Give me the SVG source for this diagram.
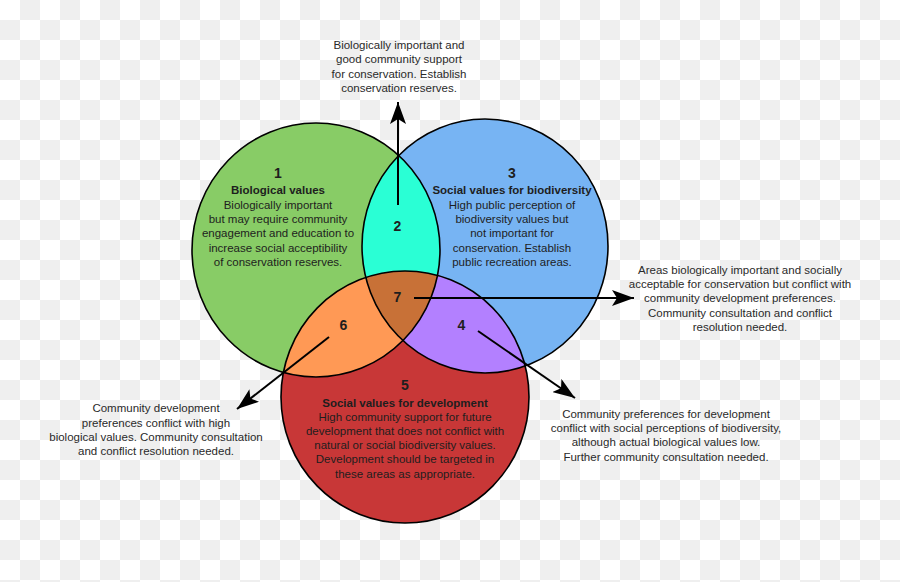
<svg xmlns="http://www.w3.org/2000/svg" width="900" height="582" viewBox="0 0 900 582">
<style>
text{font-family:"Liberation Sans",Arial,sans-serif;fill:#1e1e1e;text-anchor:middle}
.b{font-size:11.5px}
.h{font-size:11.5px;font-weight:bold}
.n{font-size:14px;font-weight:bold}
.o{font-size:11.5px;fill:#2a2a2a}
.ring{fill:none;stroke:#000;stroke-width:1.6}
.con{stroke:#000;stroke-width:2;fill:none;marker-end:url(#ah)}
</style>
<defs>
<pattern id="chk" width="40" height="40" patternUnits="userSpaceOnUse">
<rect width="40" height="40" fill="#fff"/>
<rect x="20" y="0" width="20" height="20" fill="#efefef"/>
<rect x="0" y="20" width="20" height="20" fill="#efefef"/>
</pattern>
<ellipse id="eg" cx="316" cy="250" rx="124" ry="127"/>
<ellipse id="eb" cx="485" cy="246" rx="123" ry="127"/>
<ellipse id="er" cx="405" cy="397" rx="124" ry="126"/>
<clipPath id="cg"><use href="#eg"/></clipPath>
<clipPath id="cb"><use href="#eb"/></clipPath>
<marker id="ah" markerWidth="24" markerHeight="16" refX="22" refY="8" orient="auto" markerUnits="userSpaceOnUse" viewBox="0 0 24 16">
<path d="M22,8 L0,0 L5,8 L0,16 Z" fill="#000"/>
</marker>
</defs>
<rect width="900" height="582" fill="url(#chk)"/>
<g id="circle-1"><use href="#eg" fill="#88cc66"/></g>
<g id="circle-3"><use href="#eb" fill="#77b4f3"/></g>
<g id="circle-5"><use href="#er" fill="#c83737"/></g>
<g id="region-2"><use href="#eb" fill="#2affd5" clip-path="url(#cg)"/></g>
<g id="region-6"><use href="#er" fill="#ff9955" clip-path="url(#cg)"/></g>
<g id="region-4"><use href="#er" fill="#b380ff" clip-path="url(#cb)"/></g>
<g id="region-7"><g clip-path="url(#cb)"><use href="#er" fill="#c87137" clip-path="url(#cg)"/></g></g>
<g id="outlines">
<use href="#eg" class="ring"/>
<use href="#eb" class="ring"/>
<use href="#er" class="ring"/>
</g>
<g id="connectors">
<line class="con" x1="398" y1="205" x2="398" y2="102"/>
<line class="con" x1="414" y1="298" x2="634" y2="298"/>
<line class="con" x1="329" y1="337" x2="237" y2="409"/>
<line class="con" x1="478" y1="331" x2="575" y2="398"/>
</g>
<g id="label-1">
<text class="n" x="278" y="178">1</text>
<text class="h" x="278" y="194">Biological values</text>
<text class="b" x="278" y="209">Biologically important</text>
<text class="b" x="278" y="223.2">but may require community</text>
<text class="b" x="278" y="237.4">engagement and education to</text>
<text class="b" x="278" y="251.6">increase social acceptibility</text>
<text class="b" x="278" y="265.8">of conservation reserves.</text>
</g>
<g id="label-3">
<text class="n" x="512" y="178">3</text>
<text class="h" x="512" y="194">Social values for biodiversity</text>
<text class="b" x="512" y="209">High public perception of</text>
<text class="b" x="512" y="223.2">biodiversity values but</text>
<text class="b" x="512" y="237.4">not important for</text>
<text class="b" x="512" y="251.6">conservation. Establish</text>
<text class="b" x="512" y="265.8">public recreation areas.</text>
</g>
<g id="label-2"><text class="n" x="397.5" y="231">2</text></g>
<g id="label-7"><text class="n" x="397.5" y="302">7</text></g>
<g id="label-6"><text class="n" x="343.5" y="330">6</text></g>
<g id="label-4"><text class="n" x="461.5" y="330">4</text></g>
<g id="label-5">
<text class="n" x="405" y="390">5</text>
<text class="h" x="405" y="406.5">Social values for development</text>
<text class="b" x="405" y="420.7">High community support for future</text>
<text class="b" x="405" y="434.9">development that does not conflict with</text>
<text class="b" x="405" y="449.1">natural or social biodiversity values.</text>
<text class="b" x="405" y="463.3">Development should be targeted in</text>
<text class="b" x="405" y="477.5">these areas as appropriate.</text>
</g>
<g id="note-top">
<text class="o" x="399" y="49">Biologically important and</text>
<text class="o" x="399" y="63.3">good community support</text>
<text class="o" x="399" y="77.6">for conservation. Establish</text>
<text class="o" x="399" y="91.9">conservation reserves.</text>
</g>
<g id="note-right">
<text class="o" x="740" y="274">Areas biologically important and socially</text>
<text class="o" x="740" y="288.2">acceptable for conservation but conflict with</text>
<text class="o" x="740" y="302.4">community development preferences.</text>
<text class="o" x="740" y="316.6">Community consultation and conflict</text>
<text class="o" x="740" y="330.8">resolution needed.</text>
</g>
<g id="note-left">
<text class="o" x="156" y="412.3">Community development</text>
<text class="o" x="156" y="426.5">preferences conflict with high</text>
<text class="o" x="156" y="440.7">biological values. Community consultation</text>
<text class="o" x="156" y="454.9">and conflict resolution needed.</text>
</g>
<g id="note-bottom-right">
<text class="o" x="666" y="418">Community preferences for development</text>
<text class="o" x="666" y="432.2">conflict with social perceptions of biodiversity,</text>
<text class="o" x="666" y="446.4">although actual biological values low.</text>
<text class="o" x="666" y="460.6">Further community consultation needed.</text>
</g>
</svg>
